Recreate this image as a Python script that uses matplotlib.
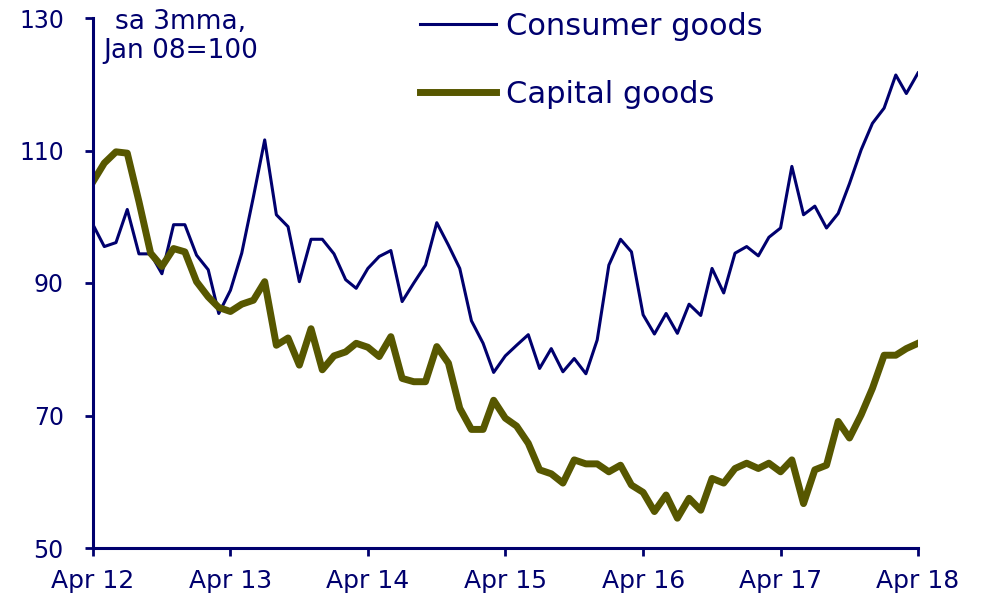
import matplotlib.pyplot as plt
import pandas as pd

# monthly, Apr 2012 - Apr 2018 (sa 3mma, Jan 08=100)
months = pd.date_range("2012-04-01", "2018-04-01", freq="MS")

consumer = [
    98.8, 95.5, 96.1, 101.1, 94.4, 94.4, 91.4, 98.8, 98.8, 94.2,
    92.0, 85.4, 88.9, 94.5, 103.0, 111.6, 100.3, 98.5, 90.2, 96.6,
    96.6, 94.4, 90.5, 89.2, 92.2, 94.0, 94.9, 87.2, 90.0, 92.7,
    99.1, 95.7, 92.2, 84.3, 80.9, 76.5, 79.0, 80.6, 82.2, 77.1,
    80.1, 76.6, 78.6, 76.3, 81.4, 92.7, 96.6, 94.7, 85.2, 82.3,
    85.4, 82.4, 86.8, 85.1, 92.2, 88.5, 94.5, 95.5, 94.1, 96.9,
    98.3, 107.6, 100.3, 101.6, 98.3, 100.5, 105.0, 110.1, 114.1, 116.4,
    121.4, 118.6, 121.7,
]

capital = [
    105.3, 108.1, 109.8, 109.6, 102.3, 94.5, 92.5, 95.2, 94.7, 90.2,
    87.9, 86.3, 85.7, 86.8, 87.4, 90.2, 80.6, 81.7, 77.6, 83.1,
    76.9, 79.0, 79.6, 80.9, 80.3, 78.9, 81.9, 75.6, 75.1, 75.1,
    80.4, 77.9, 71.1, 67.9, 67.9, 72.3, 69.6, 68.4, 65.8, 61.8,
    61.2, 59.8, 63.3, 62.7, 62.7, 61.5, 62.5, 59.5, 58.4, 55.5,
    58.0, 54.5, 57.5, 55.7, 60.5, 59.8, 62.0, 62.8, 62.0, 62.8,
    61.5, 63.3, 56.7, 61.8, 62.5, 69.1, 66.6, 70.1, 74.1, 79.1,
    79.1, 80.1, 80.9,
]

tick_dates = pd.date_range("2012-04-01", "2018-04-01", freq="12MS")
tick_labels = ["Apr 12", "Apr 13", "Apr 14", "Apr 15", "Apr 16", "Apr 17", "Apr 18"]

navy = "#00006e"
olive = "#575700"

fig = plt.figure(figsize=(9.91, 6.02), dpi=100)
ax = fig.add_axes([93 / 991, 1 - 548 / 602, 825 / 991, 530 / 602])

ax.plot(months, consumer, color=navy, lw=2.2, label="Consumer goods")
ax.plot(months, capital, color=olive, lw=5, label="Capital goods")

ax.set_xlim(months[0], months[-1])
ax.set_ylim(50, 130)
ax.set_yticks([50, 70, 90, 110, 130])
ax.set_xticks(tick_dates)
ax.set_xticklabels(tick_labels)

for s in ["top", "right"]:
    ax.spines[s].set_visible(False)
for s in ["left", "bottom"]:
    ax.spines[s].set_color(navy)
    ax.spines[s].set_linewidth(2.2)
ax.tick_params(colors=navy, labelcolor=navy, width=2, length=6, direction="out")
ax.tick_params(axis="x", labelsize=18, pad=9)
ax.tick_params(axis="y", labelsize=17, pad=15)

ax.text(181 / 991, 1 - 9 / 602, "sa 3mma,\nJan 08=100", transform=fig.transFigure,
        ha="center", va="top", color=navy, fontsize=19, linespacing=1.15)

ax.legend(loc="upper left", bbox_to_anchor=(420 / 991, 1 - 12 / 602),
          bbox_transform=fig.transFigure, frameon=False, borderpad=0,
          borderaxespad=0, fontsize=22, labelcolor=navy, handlelength=2.5,
          handletextpad=0.3, labelspacing=1.27)

fig.savefig("out.png", dpi=100)
